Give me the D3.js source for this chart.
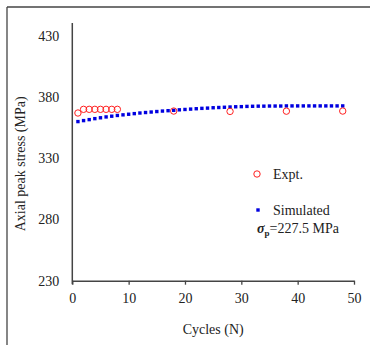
<!doctype html>
<html lang="en">
<head>
<meta charset="utf-8">
<title>axial peak stress</title>
<style>
  body { margin: 0; background: #fff; }
  text { font-family: "Liberation Serif", "Times New Roman", serif; fill: #222; }
</style>
</head>
<body>
<div id="chart"></div>
<script src="https://d3js.org/d3.v7.min.js"></script>
<script>
// ---- data
var exptN = [1, 2, 3, 4, 5, 6, 7, 8, 18, 28, 38, 48];
var exptStress = [367, 370, 370, 370, 370, 370, 370, 370, 368.6, 368.3, 368.5, 368.6];

var simN = d3.range(1, 49);
var simStress = [360.0, 360.8, 361.6, 362.4, 363.1, 363.8, 364.4, 365.0, 365.5, 366.0,
                 366.5, 367.0, 367.4, 367.8, 368.2, 368.6, 368.9, 369.2, 369.6, 369.9,
                 370.2, 370.5, 370.8, 371.0, 371.3, 371.5, 371.7, 371.9, 372.1, 372.2,
                 372.4, 372.5, 372.6, 372.6, 372.7, 372.7, 372.7, 372.8, 372.8, 372.8,
                 372.8, 372.8, 372.8, 372.8, 372.8, 372.8, 372.8, 372.8];

var xTicks = [0, 10, 20, 30, 40, 50];
var yTicks = [230, 280, 330, 380, 430];

// ---- layout
var width = 370, height = 345;
var x0 = 72.3, x1 = 354, yBase = 280.7, yTop = 23;

var svg = d3.select("#chart").append("svg")
    .attr("width", width)
    .attr("height", height);

// frame (only left and top edges are visible)
svg.append("line").attr("x1", 7).attr("y1", 7).attr("x2", width).attr("y2", 7)
   .attr("stroke", "#444").attr("stroke-width", 1.3);
svg.append("line").attr("x1", 7).attr("y1", 7).attr("x2", 7).attr("y2", height)
   .attr("stroke", "#444").attr("stroke-width", 1.3);

var xScale = d3.scaleLinear().domain([0, 50]).range([x0, x1]);
var yScale = d3.scaleLinear().domain([230, 430]).range([yBase, yBase - 4 * 61.2]);

// x axis
var xAxis = svg.append("g")
    .attr("transform", "translate(0," + yBase + ")")
    .call(d3.axisBottom(xScale).tickValues(xTicks).tickSize(4).tickPadding(8).tickSizeOuter(0));
xAxis.select(".domain").attr("stroke", "#444").attr("stroke-width", 1.5);
xAxis.selectAll(".tick line").attr("stroke", "#444").attr("stroke-width", 1.3);
xAxis.selectAll("text").attr("font-size", 14).attr("fill", "#222")
    .attr("font-family", "Liberation Serif");

// y axis
var yAxis = svg.append("g")
    .attr("transform", "translate(" + x0 + ",0)")
    .call(d3.axisLeft(yScale).tickValues(yTicks).tickSize(0).tickPadding(13));
yAxis.select(".domain").remove();
yAxis.selectAll("text").attr("font-size", 14).attr("fill", "#222")
    .attr("font-family", "Liberation Serif");
svg.append("line").attr("x1", x0).attr("x2", x0).attr("y1", yTop).attr("y2", yBase + 3.5)
   .attr("stroke", "#444").attr("stroke-width", 1.5);

// axis titles
svg.append("text")
    .attr("x", xScale(25)).attr("y", 334)
    .attr("text-anchor", "middle")
    .attr("font-size", 14)
    .text("Cycles (N)");

svg.append("text")
    .attr("transform", "translate(25," + ((yTop + yBase) / 2 + 12) + ") rotate(-90)")
    .attr("text-anchor", "middle")
    .attr("font-size", 14)
    .text("Axial peak stress (MPa)");

// simulated points
svg.append("g").selectAll("rect")
    .data(simN)
    .enter().append("rect")
    .attr("x", function(d) { return xScale(d) - 1.7; })
    .attr("y", function(d, i) { return yScale(simStress[i]) - 1.7; })
    .attr("width", 3.4).attr("height", 3.4)
    .attr("fill", "#0000e0");

// experimental points
svg.append("g").selectAll("circle")
    .data(exptN)
    .enter().append("circle")
    .attr("cx", function(d) { return xScale(d); })
    .attr("cy", function(d, i) { return yScale(exptStress[i]); })
    .attr("r", 3.2)
    .attr("fill", "none")
    .attr("stroke", "#ff2020")
    .attr("stroke-width", 1);

// legend
var lg = svg.append("g");
lg.append("circle").attr("cx", 257).attr("cy", 174).attr("r", 3.2)
  .attr("fill", "none").attr("stroke", "#ff2020").attr("stroke-width", 1);
lg.append("text").attr("x", 273).attr("y", 179).attr("font-size", 14).text("Expt.");
lg.append("rect").attr("x", 256.3).attr("y", 208.3).attr("width", 3.4).attr("height", 3.4)
  .attr("fill", "#0000e0");
lg.append("text").attr("x", 273).attr("y", 215).attr("font-size", 14).text("Simulated");

var sig = lg.append("text").attr("x", 257).attr("y", 233).attr("font-size", 14);
sig.append("tspan").attr("font-weight", "bold").attr("font-style", "italic").text("σ");
sig.append("tspan").attr("font-weight", "bold").attr("font-size", 9).attr("dy", 3).text("p");
sig.append("tspan").attr("dy", -3).text("=227.5 MPa");
</script>
</body>
</html>
